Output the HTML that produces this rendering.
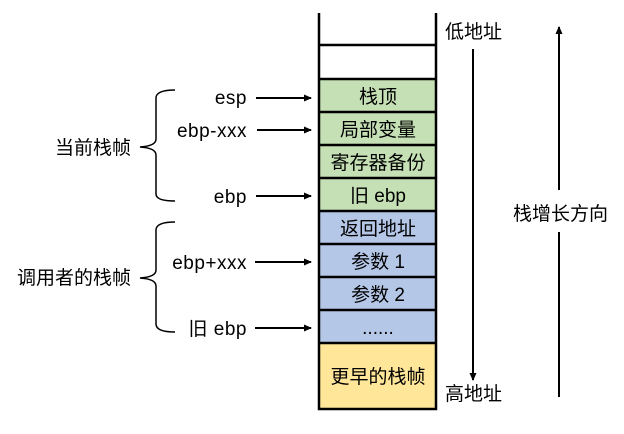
<!DOCTYPE html>
<html><head><meta charset="utf-8"><style>
body{margin:0;background:#fff;width:624px;height:429px;overflow:hidden}
svg text{font-family:"Liberation Sans","Noto Sans CJK SC",sans-serif;font-size:19px;fill:#000}
</style></head><body>
<svg width="624" height="429" xmlns="http://www.w3.org/2000/svg">
<defs><marker id="a" markerWidth="8" markerHeight="8" refX="7" refY="4" orient="auto" markerUnits="userSpaceOnUse"><path d="M0,0.5 L8,4 L0,7.5z" fill="#000"/></marker></defs>
<rect x="319" y="79" width="117" height="132" fill="#c5e0b4"/>
<rect x="319" y="211" width="117" height="132" fill="#b4c7e7"/>
<rect x="319" y="343" width="117" height="66" fill="#ffe699"/>
<g stroke="#000" stroke-width="2.5" fill="none">
<path d="M319,13 V409 H436 V13"/>
<path d="M319,45H436M319,79H436M319,112H436M319,145H436M319,178H436M319,211H436M319,244H436M319,277H436M319,310H436M319,343H436"/>
</g>
<g text-anchor="middle">
<text x="378" y="103">栈顶</text>
<text x="378" y="136">局部变量</text>
<text x="378" y="169">寄存器备份</text>
<text x="378" y="202">旧 ebp</text>
<text x="378" y="235">返回地址</text>
<text x="378" y="268">参数 1</text>
<text x="378" y="301">参数 2</text>
<text x="378" y="334">......</text>
<text x="378" y="383">更早的栈帧</text>
</g>
<g text-anchor="end">
<text x="247" y="104" letter-spacing="0.5">esp</text>
<text x="247" y="137" letter-spacing="0.5">ebp-xxx</text>
<text x="247" y="203" letter-spacing="0.5">ebp</text>
<text x="247" y="269" letter-spacing="0.5">ebp+xxx</text>
<text x="247" y="335" letter-spacing="0.5">旧 ebp</text>
<text x="131" y="154">当前栈帧</text>
<text x="131" y="284">调用者的栈帧</text>
</g>
<g stroke="#000" stroke-width="2" marker-end="url(#a)">
<line x1="256" y1="98" x2="311" y2="98"/>
<line x1="257" y1="130" x2="311" y2="130"/>
<line x1="256" y1="196" x2="311" y2="196"/>
<line x1="255" y1="262" x2="311" y2="262"/>
<line x1="255" y1="328" x2="311" y2="328"/>
<line x1="473" y1="49" x2="473" y2="380"/>
<line x1="559" y1="190" x2="559" y2="27"/>
</g>
<line x1="559" y1="232" x2="559" y2="397" stroke="#000" stroke-width="2"/>
<g stroke="#000" stroke-width="1.5" fill="none">
<path d="M175,90 Q156,90 156,98 V139 Q156,146 140,147 Q156,148 156,155 V194 Q156,201 175,201"/>
<path d="M175,222 Q156,222 156,230 V270 Q156,277 140,278 Q156,279 156,286 V324 Q156,332 175,332"/>
</g>
<text x="445" y="38">低地址</text>
<text x="445" y="400">高地址</text>
<text x="513" y="220">栈增长方向</text>
</svg>
</body></html>
